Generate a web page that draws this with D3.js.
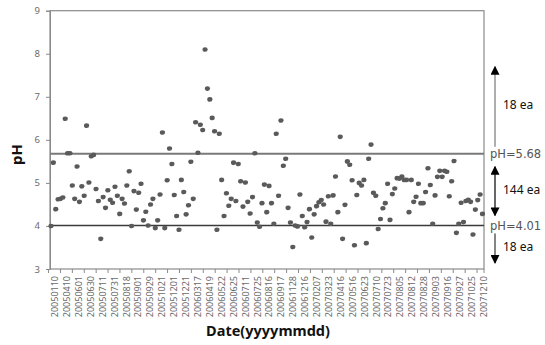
<!DOCTYPE html>
<html><head><meta charset="utf-8">
<script src="https://cdn.jsdelivr.net/npm/d3@7"></script>
<style>
body{margin:0;background:#fff;}
svg{display:block;}
</style></head>
<body>
<svg id="chart" width="545" height="345"></svg>
<script>
const phValues = [
4.00,5.47,4.39,4.62,4.63,4.66,6.49,5.69,5.69,4.94,4.63,5.38,4.56,4.92,4.70,6.33,5.01,5.62,5.65,4.86,4.58,3.70,4.67,4.42,4.83,4.61,4.54,4.91,4.70,4.28,4.63,4.52,4.94,5.27,4.00,4.81,4.38,
4.77,4.98,4.13,4.33,4.01,4.50,4.63,3.95,4.13,4.73,6.17,3.95,5.06,5.80,5.44,4.72,4.23,3.91,5.07,4.79,4.27,4.48,5.49,4.63,6.41,5.70,6.35,6.23,8.10,7.19,6.94,6.51,6.20,3.91,6.14,5.07,4.23,
4.76,4.47,4.63,5.47,4.58,5.44,5.04,4.45,5.01,4.56,4.29,4.67,5.69,4.08,3.98,4.53,4.96,4.32,4.93,4.53,4.05,6.14,4.70,6.45,5.40,5.56,4.42,4.08,3.51,4.01,3.99,4.73,4.23,3.97,4.09,4.39,3.73,
4.27,4.46,4.55,4.60,4.50,4.10,4.69,4.05,4.71,5.15,4.32,6.07,3.70,4.49,5.50,5.42,5.06,3.55,4.72,5.00,4.94,5.07,3.60,5.56,5.89,4.77,4.70,3.93,4.16,4.41,4.53,4.98,4.14,4.74,4.87,5.11,
5.10,5.15,5.07,5.07,4.32,5.07,4.56,4.68,4.98,4.53,4.53,4.79,5.34,4.95,4.05,4.71,5.14,5.28,5.14,5.28,5.26,4.69,5.04,5.51,3.84,4.05,4.54,4.09,4.58,4.61,4.56,3.80,4.38,4.60,4.73,4.28
];
const dateLabels = ["20050110","20050410","20050601","20050630","20050711","20050731","20050818","20050901","20050929","20051021","20051201","20051221","20060317","20060419","20060522","20060625","20060711","20060725","20060816","20060917","20061128","20061216","20070207","20070323","20070416","20070516","20070623","20070710","20070723","20070805","20070812","20070828","20070903","20070916","20070927","20071025","20071210"];
const yTicks = [3,4,5,6,7,8,9];
const refLines = [{value:5.68,label:"pH=5.68"},{value:4.01,label:"pH=4.01"}];
const counts = ["18 ea","144 ea","18 ea"];

const svg = d3.select("#chart");
const L = 50, R = 484, T = 10.7, B = 269;
const y = d3.scaleLinear().domain([3,9]).range([B,T]);
const x = d3.scaleLinear().domain([0, phValues.length-1]).range([51, 482.5]);
const xl = d3.scalePoint().domain(dateLabels).range([54.5, 483]);

const font = "'Noto Sans', 'DejaVu Sans', sans-serif";

// frame
svg.append("rect").attr("x",L).attr("y",T).attr("width",R-L).attr("height",B-T)
  .attr("fill","none").attr("stroke","#8a8a8a").attr("stroke-width",1.2);

// y axis
const ya = svg.append("g").attr("transform",`translate(${L},0)`)
  .call(d3.axisLeft(y).tickValues(yTicks).tickSize(4).tickPadding(6).tickFormat(d3.format("d")));
ya.select(".domain").attr("stroke","#8a8a8a");
ya.selectAll(".tick line").attr("stroke","#8a8a8a");
ya.selectAll("text").attr("fill","#6a6a6a").style("font-family",font).style("font-size","9.5px");

// x axis labels
const xa = svg.append("g").attr("transform",`translate(0,${B})`)
  .call(d3.axisBottom(xl).tickSize(0).tickPadding(0));
xa.select(".domain").remove();
xa.selectAll("text")
  .attr("transform","rotate(-90)")
  .attr("x",-7).attr("y",0).attr("dy","0.35em")
  .attr("text-anchor","end")
  .attr("fill","#6a6a6a").style("font-family",font).style("font-size","9px");
// x tick marks between labels
const step = xl.step();
const tickPos = dateLabels.map(d => xl(d) - step/2).concat([R]);
svg.append("g").selectAll("line").data(tickPos).join("line")
  .attr("x1",d=>d).attr("x2",d=>d).attr("y1",B).attr("y2",B+4)
  .attr("stroke","#8a8a8a");

// reference lines
svg.append("line").attr("x1",L).attr("x2",R).attr("y1",y(5.68)).attr("y2",y(5.68))
  .attr("stroke","#7a7a7a").attr("stroke-width",2);
svg.append("line").attr("x1",L).attr("x2",R).attr("y1",y(4.01)).attr("y2",y(4.01))
  .attr("stroke","#3a3a3a").attr("stroke-width",1.4);

// points
svg.append("g").selectAll("ellipse").data(phValues).join("ellipse")
  .attr("cx",(d,i)=>x(i)).attr("cy",d=>y(d)).attr("rx",2.6).attr("ry",2.3)
  .attr("fill","#5a5a5a");

// axis titles
svg.append("text").attr("transform",`translate(22,${y(5.8)+6}) rotate(-90)`)
  .attr("text-anchor","middle").style("font-family",font).style("font-weight","bold")
  .style("font-size","15px").attr("fill","#111").text("pH");
svg.append("text").attr("x",268).attr("y",336).attr("text-anchor","middle")
  .style("font-family",font).style("font-weight","bold").style("font-size","14.5px")
  .attr("fill","#111").text("Date(yyyymmdd)");

// annotations
const defs = svg.append("defs");
defs.append("marker").attr("id","ah").attr("viewBox","0 0 10 10").attr("refX",9).attr("refY",5)
  .attr("markerWidth",9).attr("markerHeight",9).attr("markerUnits","userSpaceOnUse").attr("orient","auto-start-reverse")
  .append("path").attr("d","M0,0 L10,5 L0,10 Z").attr("fill","#000");
const ax = 495;
const arrows = [
  {y1:y(5.68)-7, y2:y(7.7), start:false, color:"#777"},
  {y1:y(4.01)-10, y2:y(5.68)+13, start:true, color:"#000"},
  {y1:y(4.01)+8, y2:y(3)-6, start:false, color:"#333"}
];
svg.append("g").selectAll("line").data(arrows).join("line")
  .attr("x1",ax).attr("x2",ax).attr("y1",d=>d.y1).attr("y2",d=>d.y2)
  .attr("stroke",d=>d.color).attr("stroke-width",1.2)
  .attr("marker-end","url(#ah)")
  .attr("marker-start",d=>d.start?"url(#ah)":null);

const countY = [y(6.6)-5, y(4.85)+5, y(3.5)+4];
svg.append("g").selectAll("text").data(counts).join("text")
  .attr("x",503).attr("y",(d,i)=>countY[i])
  .style("font-family",font).style("font-size","12px").attr("fill","#111").text(d=>d);

svg.append("g").selectAll("text").data(refLines).join("text")
  .attr("x",490).attr("y",d=>y(d.value)+4.5)
  .style("font-family","'DejaVu Sans', sans-serif").style("font-size","11.5px")
  .attr("fill","#555").text(d=>d.label);
</script>
</body></html>
